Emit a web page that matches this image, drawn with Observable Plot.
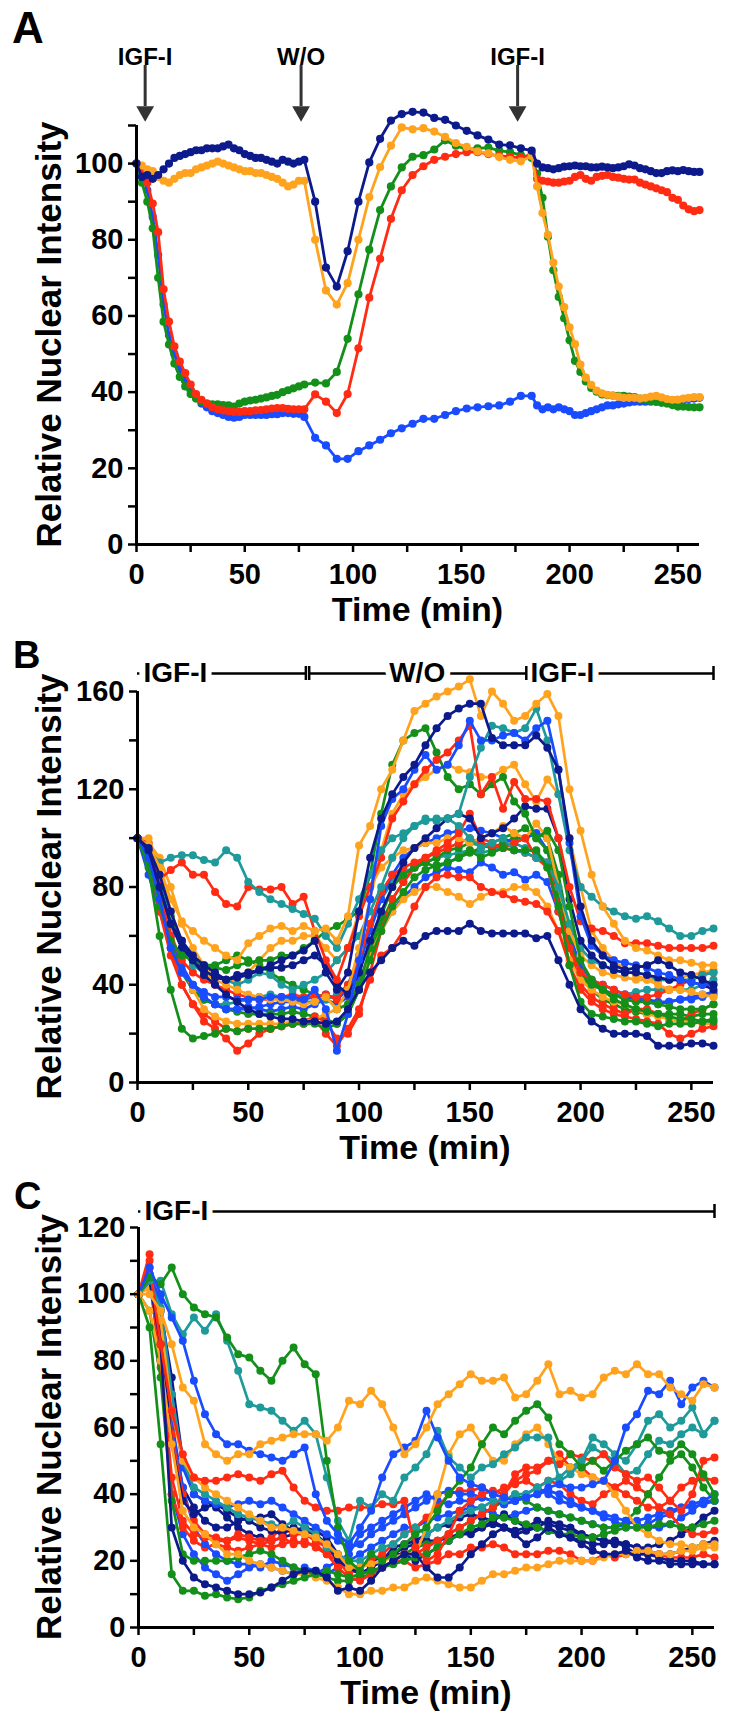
<!DOCTYPE html>
<html><head><meta charset="utf-8">
<script src="https://cdn.jsdelivr.net/npm/d3@7"></script>
<script src="https://cdn.jsdelivr.net/npm/@observablehq/plot@0.6"></script>
<style>
body{margin:0;background:#fff;}
#wrap{position:relative;width:731px;height:1723px;overflow:hidden;background:#fff;}
#wrap > div{position:absolute;left:0;}
</style></head><body>
<div id="wrap"><div id="pa" style="top:0px"></div><div id="pb" style="top:620px"></div><div id="pc" style="top:1160px"></div></div>
<script>
// ---------- colours ----------
const NAVY = "#0c1a8c", ORANGE = "#ffa31f", GREEN = "#14901a", RED = "#ff2b12", BLUE = "#1a4cff", TEAL = "#1f9a9a";

// ---------- panel A ----------
const tA = [0,2.5,5,7.5,10,12.5,15,17.5,20,22.5,25,27.5,30,32.5,35,37.5,40,42.5,45,47.5,50,52.5,55,57.5,60,62.5,65,67.5,70,72.5,75,77.5,
  82.5,87.5,92.5,97.5,102.5,107.5,112.5,117.5,122.5,127.5,132.5,137.5,142.5,147.5,152.5,157.5,162.5,167.5,172.5,177.5,182.5,
  185,187.5,190,192.5,195,197.5,200,202.5,205,207.5,210,212.5,215,217.5,220,222.5,225,227.5,230,232.5,235,237.5,240,242.5,245,247.5,250,252.5,255,257.5,260];
const aNavy = [100,96.5,97,96,97,98.5,100,101.5,102,102.5,103,103.5,103.5,104,104,104,104.5,105,104,103.5,102.5,102,101.5,101.5,101,100.5,100,101,100.5,100,100.5,101,
  90,72.7,67.7,77,90,100.3,106.5,111.3,113,113.6,113.4,112,111.5,110,108.6,107.4,106.3,105,104.8,104,103.4,
  100,99,98.8,98.5,98.8,99.2,99.3,99.5,99.3,99.3,99,99,99.2,99,98.8,99,99.3,99.8,99.5,98.8,98.5,98,97.5,97.5,98,98.2,98,98.3,98,97.8,97.8];
const aOrange = [100,99.5,98.5,98,96.5,95.5,95,96,97,97.5,97.5,98.5,99,99.5,100,100.5,100,99.5,99,98.5,98,98,97.5,97.5,97,96.5,96,95,94,94.5,95.5,95.5,
  80,66.7,63,68.6,80,91.2,99.1,104.7,109.5,109,109.3,108.4,107,105.4,104.4,103.2,102.7,101.7,101,100.6,102,
  94,87,81.3,74,67.7,62.3,57,52.6,47.2,43.8,41.9,40.4,39.7,39.3,39,38.8,38.5,38.5,38.5,38.3,38.5,38.8,39,38.6,38.2,38,38,38.3,38.5,38.7,38.7];
const aGreen = [100,95,90,83,70,58.5,52.5,47.5,44,41.5,39.5,38.3,37.5,37,36.8,36.8,36.6,36.5,36.2,37,37.5,37.8,38,38.3,38.6,39,39.3,40,40.5,41,41.5,42,
  42.5,42.3,45.3,54,65.7,77.4,87.8,94,99,101.8,102.2,103.7,106.1,104.7,103.7,104,104.2,103.4,103,102.2,101.5,
  97.4,91,80.8,72,65,59.4,53.6,48.2,45.3,42.8,41.1,40.1,39.4,39.2,39.1,39,39,38.8,38.7,38.3,38,37.7,37.5,37.2,37,36.6,36.2,36.2,36.1,36,36];
const aRed = [100,98.5,95,89.5,82,67,58.5,52,48,45,42,39.5,38,37,36,35.5,35.2,35,34.8,34.8,35,35,35.2,35.3,35.5,35.7,35.8,35.8,35.6,35.5,35.5,35.5,
  39.4,37.5,34.5,39.5,51.5,64.8,75,85.5,93,97,99.3,101,101.8,102.5,103,103,102.5,102,101.8,101.5,102.5,
  96,95.5,95.3,95,95,95.3,95.5,96.5,97,96,95.5,96.5,96.8,97,96.5,96.3,96,95.8,95.8,95,94.5,94,93.5,93,92.5,91,90.5,89,88,87.5,87.8];
const aBlue = [100,97,93,86,76,63,55,50,46,43,40.5,38.5,37,36,35,34.5,34,33.5,33.3,33.5,34,34,34,34,34,34.2,34.2,34.5,34.5,34.3,34.3,33.5,
  28,26,22.5,22.5,24.5,26,27.5,29.2,30.5,31.7,33,33,34,35,35.7,36,36.3,36.5,37.5,39,39,
  36.5,35.5,36,35.5,36,35.5,35,34,34,34.5,35,35.5,36,36.5,36.5,36.8,37,37.3,37.5,37.5,37.5,37.5,37.5,37.5,37.5,37.8,38,38,38.2,38.3,38.5];
const arrowA_t = [4, 76, 176];
const arrowA_label = ["IGF-I", "W/O", "IGF-I"];

// ---------- panels B and C: time grid (min) ----------
const tBC = [0,5,10,15,20,25,30,35,40,45,50,55,60,65,70,75,80,85,90,95,100,105,110,115,120,125,130,135,140,145,150,155,160,165,170,175,180,185,190,195,200,205,210,215,220,225,230,235,240,245,250,255,260];

// ---------- panel B ----------
const bOrange1 = [100,97,88,75,66,62,58,55,52,50, 57,60,63,64,62,64,62,63,58,68, 97,105,120,128,140,152,155,158,160,162, 165,150,160,155,148,150,155,159,150,120, 103,85,72,65,58,55,54,52,50,50, 49,48,48];
const bNavy1 = [100,95,80,65,58,52,48,45,42,44, 45,46,48,50,52,54,58,45,38,45, 70,92,108,118,125,130,138,145,150,153, 155,155,141,138,138,138,142,137,128,100, 72,58,52,48,46,47,48,50,48,45, 44,42,40];
const bNavy2 = [100,96,85,70,58,50,44,40,36,33, 30,28,27,26,26,25,25,24,25,30, 38,45,50,55,58,56,60,62,62,62, 65,62,61,61,61,61,59,60,50,40, 30,25,22,20,20,20,19,15,15,15, 16,16,15];
const bTeal1 = [100,95,90,92,93,93,91,90,95,92, 82,78,75,73,71,69,67,60,55,65, 75,85,95,100,102,105,107,108,108,110, 125,137,146,145,143,145,153,140,118,95, 80,76,72,70,68,67,68,66,63,60, 60,62,63];
const bRed1 = [100,95,83,87,90,85,85,78,73,72, 80,79,79,80,73,76,62,50,42,55, 68,80,92,108,115,122,128,132,135,140, 146,118,125,112,123,116,116,115,100,80, 66,63,62,60,57,57,57,56,55,55, 55,55,56];
const bGreen1 = [100,90,72,58,52,50,48,47,46,48, 49,50,50,52,52,55,58,62,64,67, 70,85,110,130,140,143,145,135,125,120, 122,118,122,125,115,110,100,103,95,72, 50,42,38,34,32,30,29,28,27,26, 26,25,26];
const bGreen2 = [100,88,60,38,22,18,19,20,22,21, 22,22,22,23,24,24,24,22,24,28, 38,50,62,72,78,84,87,89,90,92, 95,92,94,96,95,95,95,88,72,48, 33,28,27,26,25,25,24,23,24,24, 24,25,25];
const bBlue1 = [100,92,75,55,45,40,37,35,35,34, 34,34,35,35,35,34,38,30,13,28, 50,75,105,116,120,128,134,128,130,138, 148,140,140,142,143,140,145,148,128,98, 68,56,52,50,49,48,47,45,44,42, 41,40,40];
const bNavy3 = [100,93,80,65,55,50,46,43,42,43, 44,46,47,47,48,50,52,48,40,36, 45,58,70,80,90,96,100,104,108,110, 108,100,102,104,108,113,112,112,100,75, 58,52,48,46,45,45,44,43,42,42, 41,40,38];
const bTeal2 = [100,94,82,66,55,48,45,44,42,40, 42,45,44,40,38,40,42,45,50,55, 60,70,80,92,100,105,108,107,108,105, 100,96,98,100,95,94,92,90,80,65, 55,50,48,46,45,45,44,42,42,42, 42,44,45];
const bOrange2 = [100,100,88,70,58,50,45,42,40,38, 36,35,34,34,33,32,33,35,30,38, 55,75,95,110,118,122,125,128,130,128, 127,125,125,128,130,122,115,124,118,100, 80,62,55,50,46,44,42,40,38,38, 37,36,35];
const bOrange3 = [100,96,80,62,48,38,30,27,25,24, 24,24,24,24,25,25,26,28,30,32, 40,52,62,70,75,78,80,80,78,76, 73,76,78,78,80,80,78,72,62,50, 42,38,35,33,32,30,28,27,26,25, 25,24,24];
const bRed2 = [100,95,75,55,40,32,25,22,18,13, 16,20,22,23,24,24,26,20,15,22, 30,42,52,55,62,72,80,84,85,84, 84,80,78,77,75,74,73,70,62,48, 38,33,30,28,27,26,25,24,20,18, 20,22,23];
const bRed3 = [100,92,70,52,40,32,28,25,22,21, 22,22,22,23,24,25,27,25,18,20, 28,45,62,75,82,88,92,94,96,98, 100,98,97,96,95,94,92,90,75,55, 40,35,32,30,28,30,30,28,26,25, 28,30,32];
const bBlue2 = [100,95,80,60,48,40,35,32,30,30, 30,31,32,33,33,34,35,36,34,38, 48,62,75,85,92,96,98,100,102,103, 104,103,102,100,98,100,102,95,78,60, 48,42,40,38,36,35,34,33,33,34, 34,35,36];
const bBlue3 = [100,85,70,55,45,38,34,32,30,30, 31,30,29,30,31,30,32,34,32,35, 42,52,62,70,76,80,84,86,88,87, 86,90,88,85,86,83,85,82,70,55, 45,40,38,36,35,34,33,32,33,34, 35,36,37];
const bGreen3 = [100,94,76,58,46,38,34,32,30,29, 28,28,28,28,29,28,27,26,24,28, 38,52,65,75,82,88,90,92,95,96, 98,97,96,98,100,100,102,100,85,62, 45,38,34,32,30,29,28,28,28,28, 27,28,28];
const bRed4 = [100,98,80,60,50,45,42,40,38,36, 35,34,34,35,36,35,35,36,34,40, 50,65,78,85,88,90,92,95,98,102, 110,100,98,96,98,100,92,88,70,55, 45,42,40,38,36,35,35,36,38,40, 42,44,45];
const bTeal3 = [100,90,75,58,45,38,34,32,32,33, 34,35,36,35,34,33,33,34,36,40, 52,65,75,82,86,88,90,92,93,94, 95,94,95,97,98,96,94,90,75,58, 45,40,38,36,36,37,38,38,38,38, 38,40,42];
const bOrange4 = [100,98,92,80,65,55,48,44,42,42, 45,50,55,58,58,60,60,55,50,55, 70,80,88,92,95,96,98,98,100,100, 98,100,102,105,102,100,106,100,80,62, 52,48,45,44,43,42,42,42,42,43, 44,45,46];
const bGreen4 = [100,95,85,68,55,50,48,48,50,52, 50,48,45,42,40,38,36,35,30,32, 40,55,68,80,85,88,90,88,90,92, 94,96,98,100,102,104,100,95,78,58, 45,40,38,36,34,33,33,32,31,30, 30,30,32];
const barB_start = [0, 77.5, 175.5];
const barB_end = [76, 175.5, 260];
const barB_label = ["IGF-I", "W/O", "IGF-I"];
const barB_labelAt = [2.7, 126.25, 177.4];
const barB_ticks = [76, 77.5, 175.5, 260];

// ---------- panel C ----------
const cGreen1 = [100,105,103,108,100,96,94,93,87,82, 81,77,74,80,84,79,76,50,30,20, 17,22,20,22,25,28,30,35,40,44, 48,55,60,58,62,65,67,63,55,52, 48,50,47,50,53,55,57,53,52,55, 52,46,40];
const cGreen2 = [100,90,55,16,11,11,9.5,10,9,8.5, 9,11,12,13,14,15,16,17,16,15, 16,17,18,19,20,21,22,24,26,28, 30,31,33,33,32,31,30,29,28,28, 27,27,28,29,30,30,30,31,31,30, 30,31,32];
const cTeal1 = [100,104,104,94,88,93,89,94,86,77, 67,66,65,62,59,62,58,45,32,26, 38,36,40,38,45,48,52,59,51,48, 45,48,49,52,54,57,57,57,44,46, 50,57,55,52,50,55,62,64,60,62, 66,58,62];
const cOrange1 = [100,100,95,85,72,68,55,52,50,52, 52,55,56,57,58,58,58,56,60,68, 67,71,67,60,52,55,60,67,70,73, 76,74,74,75,69,70,74,79,70,71, 69,70,75,77,76,79,76,76,72,70, 68,73,72];
const cOrange2 = [100,95,80,55,35,30,28,25,22,22, 20,19,18,17,16,16,15,14,12,10, 10,11,11,12,12,14,15,14,13,12, 12,14,16,16,17,18,18,19,20,20, 20,20,21,22,22,23,23,22,22,23, 23,24,24];
const cBlue1 = [100,108,100,93,86,74,64,58,55,55, 53,52,51,50,52,54,40,32,28,25, 30,35,45,52,54,56,65,57,50,45, 43,42,40,39,38,39,40,42,43,42, 42,43,44,50,60,64,71,70,74,67, 72,74,72];
const cRed1 = [100,108,85,65,52,45,44,44,45,46, 45,44,46,47,42,38,36,35,35,36, 36,36,37,37,38,24,20,22,28,35, 38,40,41,40,44,46,47,50,49,52, 51,50,52,48,46,44,45,42,38,35, 40,50,51];
const cNavy1 = [100,104,85,30,20,15,13,12,11,10, 10,10.5,12,14,16,17,17,15,11,12, 11,14,18,20,22,22,18,15,15,18, 22,25,28,30,28,25,27,30,28,27, 25,23,22,22,23,21,20,20,19,19, 19,19,19];
const cNavy2 = [100,105,88,55,38,34,36,37,35,33, 32,30,29,28,30,29,28,25,20,18, 16,18,20,22,22,20,22,24,26,28, 28,30,32,34,32,30,30,29,28,27, 26,25,25,26,24,22,22,21,20,20, 20,19,19];
const cNavy3 = [100,104,90,60,42,36,32,30,30,32, 33,33,34,31,29,30,29,27,22,18, 16,18,20,24,25,26,28,30,31,33, 34,33,32,30,28,29,30,32,31,30, 28,27,26,25,25,24,24,25,26,28, 30,33,35];
const cRed2 = [100,112,80,45,32,28,27,26,26,27, 26,25,26,27,25,26,24,22,18,15, 14,16,18,20,22,22,24,26,28,30, 32,34,36,40,46,48,48,50,52,48, 48,45,44,42,40,38,36,36,34,30, 28,28,29];
const cRed3 = [100,106,78,40,30,26,24,25,24,23, 24,25,24,25,26,25,25,22,20,18, 16,17,18,20,20,18,19,20,22,22, 24,24,25,24,22,22,22,23,23,22, 20,20,22,21,22,22,22,22,21,21, 21,22,21];
const cRed4 = [100,110,90,58,40,32,28,27,26,28, 27,26,27,30,28,28,26,24,20,16, 18,20,22,25,28,30,33,36,40,41, 41,42,40,42,43,44,42,44,43,40, 38,37,40,42,44,42,40,36,38,42, 44,45,44];
const cBlue2 = [100,106,95,62,42,30,25,22,20,19, 19,18,20,19,18,17,16,18,20,22, 28,30,32,34,36,38,40,38,37,38, 38,39,38,37,38,40,42,40,38,37, 36,35,33,32,30,30,31,33,34,36, 37,38,38];
const cBlue3 = [100,104,80,40,28,22,18,16,14,16, 18,19,18,17,16,18,17,16,18,20, 22,24,26,28,30,30,32,33,34,35, 36,36,34,33,34,35,36,35,34,33, 32,31,30,30,31,32,33,34,35,36, 36,37,38];
const cTeal2 = [100,104,96,70,50,42,40,38,36,34, 33,32,31,30,32,30,28,24,22,20, 20,22,24,25,28,30,28,30,32,34, 35,36,38,38,40,40,42,44,45,48, 50,54,52,50,46,47,52,56,55,58, 60,58,62];
const cGreen3 = [100,95,75,38,22,20,20,20,20,21, 22,23,22,20,18,17,16,15,14,14, 15,16,18,20,22,24,25,26,28,30, 32,34,36,38,40,38,36,35,34,33, 32,31,30,30,32,35,40,45,50,52, 48,42,38];
const cOrange3 = [100,102,92,65,50,45,42,40,38,36, 34,32,30,30,29,28,27,25,22,18, 18,19,20,21,22,22,30,40,52,58, 60,55,50,50,55,58,60,55,50,48, 46,45,44,40,35,30,28,26,25,25, 24,25,25];
const cNavy4 = [100,104,95,75,50,40,38,36,33,30, 28,27,26,27,28,30,28,24,20,18, 18,20,21,22,24,25,26,26,27,28, 29,30,31,30,29,30,32,31,30,29, 28,27,26,26,25,24,23,22,22,23, 24,25,26];
const cBlue4 = [100,106,98,70,48,40,38,37,36,37, 38,37,38,36,34,32,30,28,26,24, 25,28,30,32,34,36,38,40,41,40, 40,39,38,37,38,39,40,41,40,38, 36,35,34,33,32,31,30,30,31,33, 35,38,40];
const barC_start = [0];
const barC_end = [260];
const barC_label = ["IGF-I"];
const barC_labelAt = [2.7];
const barC_ticks = [260];

// ---------- drawing ----------
const FONT = '"Liberation Sans", Arial, Helvetica, sans-serif';

function makePanel(cfg) {
  const {series, yMax, yStep, height, mt, mb, ml, mr, r, sw, extra} = cfg;
  const k = (height - mt - mb) / yMax; // px per unit
  const xTicks = [0,25,50,75,100,125,150,175,200,225,250];
  const yTicks = d3.range(0, yMax + 0.001, yStep);
  const marks = [];
  for (const s of series) {
    const data = s.t.map((t, i) => ({t, v: s.v[i]}));
    marks.push(Plot.line(data, {x: "t", y: "v", stroke: s.color, strokeWidth: sw}));
    marks.push(Plot.dot(data, {x: "t", y: "v", fill: s.color, r}));
  }
  marks.push(Plot.ruleX([0], {y1: 0, y2: yMax, strokeWidth: 3, stroke: "black"}));
  marks.push(Plot.ruleY([0], {x1: 0, x2: 260, strokeWidth: 3, stroke: "black"}));
  marks.push(Plot.axisX({ticks: xTicks, tickFormat: d => d % 50 === 0 ? String(d) : "", tickSize: 8, tickPadding: 11, strokeWidth: 2.5, label: null}));
  marks.push(Plot.axisY({ticks: yTicks, tickFormat: d => d % (2 * yStep) === 0 ? String(d) : "", tickSize: 8, tickPadding: 5, strokeWidth: 2.5, label: null}));
  marks.push(...extra(k, yMax));
  const svg = Plot.plot({
    width: 731, height, marginTop: mt, marginBottom: mb, marginLeft: ml, marginRight: mr,
    x: {domain: [0, 260]}, y: {domain: [0, yMax]},
    style: {fontFamily: FONT, fontSize: "29px", fontWeight: "bold", background: "transparent", overflow: "visible", color: "black"},
    marks
  });
  return {svg, k};
}

function barMarks(k, yMax, offPx, starts, ends, labels, labelAt, ticks) {
  const yBar = yMax + offPx / k;
  const segs = starts.map((s, i) => ({x1: s, x2: ends[i]}));
  const labs = labels.map((l, i) => ({x: labelAt[i], label: l}));
  const startLabs = labs.filter(d => d.label !== "W/O");
  const midLabs = labs.filter(d => d.label === "W/O");
  return [
    Plot.ruleY(segs, {y: yBar, x1: "x1", x2: "x2", strokeWidth: 2.5, stroke: "black"}),
    Plot.text(startLabs, {x: "x", y: yBar, text: "label", textAnchor: "start", fontSize: 28, stroke: "white", strokeWidth: 12, paintOrder: "stroke", fill: "black"}),
    Plot.text(midLabs, {x: "x", y: yBar, text: "label", textAnchor: "middle", fontSize: 28, stroke: "white", strokeWidth: 12, paintOrder: "stroke", fill: "black"}),
    Plot.ruleX(ticks, {x: d => d, y1: yBar - 7 / k, y2: yBar + 7 / k, strokeWidth: 2.5, stroke: "black"})
  ];
}

function addTitles(svg, cfg) {
  const s = d3.select(svg);
  const midY = (cfg.mt + (cfg.height - cfg.mb)) / 2;
  const midX = (cfg.ml + (731 - cfg.mr)) / 2;
  s.append("text").attr("transform", `translate(61,${midY}) rotate(-90)`)
    .attr("text-anchor", "middle").attr("font-size", 35).attr("font-weight", "bold").attr("font-family", FONT)
    .attr("fill", "black").text("Relative Nuclear Intensity");
  s.append("text").attr("x", midX).attr("y", cfg.height - cfg.mb + 77)
    .attr("text-anchor", "middle").attr("font-size", 34).attr("font-weight", "bold").attr("font-family", FONT)
    .attr("fill", "black").text("Time (min)");
  s.append("text").attr("x", cfg.letterX).attr("y", cfg.letterY).attr("text-anchor", "start")
    .attr("font-size", cfg.letterSize).attr("font-weight", "bold").attr("font-family", FONT)
    .attr("fill", "black").text(cfg.letter);
}

// Panel A
const cfgA = {
  series: [
    {t: tA, v: aBlue, color: BLUE}, {t: tA, v: aGreen, color: GREEN}, {t: tA, v: aRed, color: RED},
    {t: tA, v: aOrange, color: ORANGE}, {t: tA, v: aNavy, color: NAVY}
  ],
  yMax: 110, yStep: 10, height: 620, mt: 125, mb: 76, ml: 136, mr: 32, r: 4.1, sw: 2.8,
  letter: "A", letterX: 12, letterY: 43, letterSize: 44,
  extra: (k, yMax) => {
    const arrows = arrowA_t.map((t, i) => ({t, label: arrowA_label[i]}));
    return [
      Plot.ruleX(arrows, {x: "t", insetTop: -60, insetBottom: 620 - 76 - 125 + 19, stroke: "#333", strokeWidth: 3}),
      Plot.dot(arrows, {x: "t", frameAnchor: "top", dy: -14, symbol: "triangle", rotate: 180, r: 6.6, fill: "#333", stroke: "none"}),
      Plot.text(arrows, {x: "t", text: "label", frameAnchor: "top", dy: -78, fontSize: 24, fill: "black"})
    ];
  }
};
// Panel B
const cfgB = {
  series: [
    {v: bBlue3, color: BLUE}, {v: bTeal3, color: TEAL}, {v: bGreen3, color: GREEN}, {v: bRed3, color: RED},
    {v: bOrange3, color: ORANGE}, {v: bRed2, color: RED}, {v: bBlue2, color: BLUE}, {v: bGreen4, color: GREEN},
    {v: bOrange4, color: ORANGE}, {v: bRed4, color: RED}, {v: bTeal2, color: TEAL}, {v: bGreen2, color: GREEN},
    {v: bOrange2, color: ORANGE}, {v: bNavy3, color: NAVY}, {v: bGreen1, color: GREEN}, {v: bRed1, color: RED},
    {v: bTeal1, color: TEAL}, {v: bBlue1, color: BLUE}, {v: bOrange1, color: ORANGE}, {v: bNavy1, color: NAVY},
    {v: bNavy2, color: NAVY}
  ].map(s => ({...s, t: tBC})),
  yMax: 160, yStep: 20, height: 540, mt: 71, mb: 78, ml: 137, mr: 18, r: 4, sw: 2.7,
  letter: "B", letterX: 13, letterY: 48, letterSize: 38,
  extra: (k, yMax) => barMarks(k, yMax, 18, barB_start, barB_end, barB_label, barB_labelAt, barB_ticks)
};
// Panel C
const cfgC = {
  series: [
    {v: cNavy4, color: NAVY}, {v: cBlue3, color: BLUE}, {v: cRed3, color: RED}, {v: cNavy3, color: NAVY},
    {v: cBlue2, color: BLUE}, {v: cRed4, color: RED}, {v: cGreen3, color: GREEN}, {v: cNavy2, color: NAVY},
    {v: cBlue4, color: BLUE}, {v: cRed2, color: RED}, {v: cTeal2, color: TEAL}, {v: cOrange3, color: ORANGE},
    {v: cOrange2, color: ORANGE}, {v: cGreen2, color: GREEN}, {v: cNavy1, color: NAVY}, {v: cRed1, color: RED},
    {v: cTeal1, color: TEAL}, {v: cGreen1, color: GREEN}, {v: cBlue1, color: BLUE}, {v: cOrange1, color: ORANGE}
  ].map(s => ({...s, t: tBC})),
  yMax: 120, yStep: 10, height: 563, mt: 67, mb: 96, ml: 138, mr: 17, r: 4, sw: 2.7,
  letter: "C", letterX: 14, letterY: 49, letterSize: 38,
  extra: (k, yMax) => barMarks(k, yMax, 16, barC_start, barC_end, barC_label, barC_labelAt, barC_ticks)
};

for (const [id, cfg] of [["pa", cfgA], ["pb", cfgB], ["pc", cfgC]]) {
  const {svg} = makePanel(cfg);
  addTitles(svg, cfg);
  document.getElementById(id).appendChild(svg);
}
</script>
</body></html>
